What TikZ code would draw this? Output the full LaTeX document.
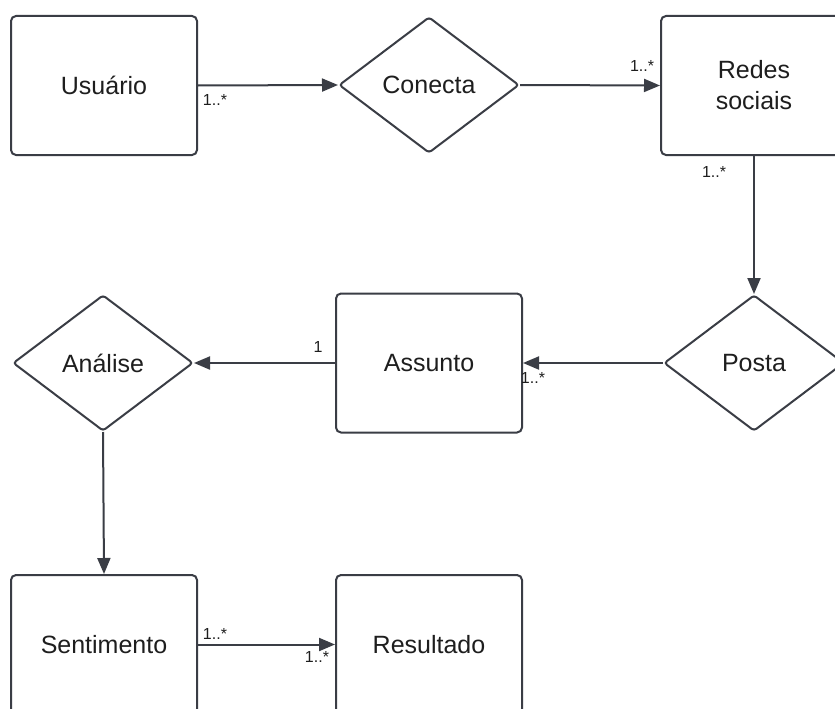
\documentclass[tikz,border=0pt]{standalone}
\usepackage{fontspec}
\setmainfont{Liberation Sans}
\usetikzlibrary{shapes.geometric,arrows.meta,positioning}
\definecolor{edge}{HTML}{3A3D45}
\definecolor{ink}{HTML}{1E1E1E}
\tikzset{
  entity/.style={draw=edge, line width=2pt, rounded corners=5pt, rectangle,
    minimum width=186pt, minimum height=139pt, align=center, text=ink,
    font=\fontsize{25}{31}\selectfont, inner sep=0pt},
  relation/.style={draw=edge, line width=2pt, rounded corners=3pt, diamond,
    minimum width=180pt, minimum height=136pt, text=ink,
    font=\fontsize{25}{31}\selectfont, inner sep=0pt},
  link/.style={draw=edge, line width=2pt, -{Triangle[length=16pt,width=13pt]}},
  mult/.style={text=ink, font=\fontsize{16}{19}\selectfont, inner sep=0pt}
}
\begin{document}
\begin{tikzpicture}[x=1pt,y=-1pt]
  \useasboundingbox (0,0) rectangle (835,709);
  \clip (0,0) rectangle (835,709);
  \fill[white] (0,0) rectangle (835,709);

  % entities and relationships
  \node[entity]   (usuario)    at (104,85.5) {Usuário};
  \node[relation] (conecta)    at (429,85)   {Conecta};
  \node[entity]   (redes)      at (754,85.5) {Redes\\sociais};
  \node[relation] (posta)      at (754,363)  {Posta};
  \node[entity]   (assunto)    at (429,363)  {Assunto};
  \node[relation] (analise)    at (103,363)  {Análise};
  \node[entity]   (sentimento) at (104,644.5){Sentimento};
  \node[entity]   (resultado)  at (429,644.5){Resultado};

  % connectors
  \draw[link] (usuario.east) -- (conecta.west);
  \draw[link] (conecta.east) -- (redes.west);
  \draw[link] (redes.south) -- (posta.north);
  \draw[link] (posta.west) -- (assunto.east);
  \draw[link] (assunto.west) -- (analise.east);
  \draw[link] (analise.south) -- (sentimento.north);
  \draw[link] (sentimento.east) -- (resultado.west);

  % multiplicities
  \node[mult] (m1) at (215,100) {1..*};
  \node[mult] (m2) at (642,66)  {1..*};
  \node[mult] (m3) at (714,172) {1..*};
  \node[mult] (m4) at (533,378) {1..*};
  \node[mult] (m5) at (318,347) {1};
  \node[mult] (m6) at (215,634) {1..*};
  \node[mult] (m7) at (317,657) {1..*};
\end{tikzpicture}
\end{document}
